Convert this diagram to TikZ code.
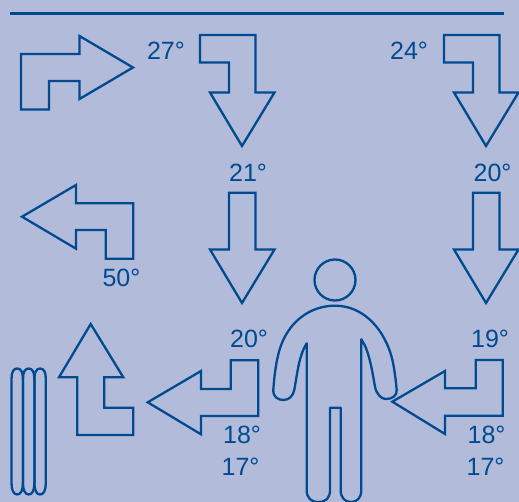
\documentclass[tikz,border=0pt]{standalone}
\usepackage{fontspec}
\setmainfont{Liberation Sans}
\definecolor{lineblue}{HTML}{004A8F}
\definecolor{paleblue}{HTML}{B3BBDB}
\begin{document}
\begin{tikzpicture}[
    x=1pt,
    y=-1pt,
    airflow/.style={draw=lineblue, line width=2.3pt, miter limit=10},
    templabel/.style={text=lineblue, inner sep=0pt, anchor=base, font=\fontsize{25}{28}\selectfont}
]

    % Background and margins
    \fill[paleblue] (0,0) rectangle (519,502);
    \useasboundingbox (0,0) rectangle (519,502);

    % Top rule
    \draw[lineblue, line width=2.6pt] (10,13.5) -- (504,13.5);

    % Warm air leaving the radiator at the top left
    \draw[airflow] (21,54) -- (79.5,54) -- (79.5,36) -- (133,67.5) -- (79.5,99) -- (79.5,81)
        -- (49,81) -- (49,109.5) -- (21,109.5) -- cycle;

    % Ceiling arrows, left and right column
    \draw[airflow] (200,35) -- (255.5,35) -- (255.5,92.5) -- (274.5,92.5) -- (242,146)
        -- (210,92.5) -- (229,92.5) -- (229,62.5) -- (200,62.5) -- cycle;
    \draw[airflow] (444,35) -- (499.5,35) -- (499.5,92.5) -- (518.5,92.5) -- (486,146)
        -- (454,92.5) -- (473,92.5) -- (473,62.5) -- (444,62.5) -- cycle;

    % Straight down arrows
    \draw[airflow] (229,192.7) -- (255.5,192.7) -- (255.5,249.5) -- (274.5,249.5) -- (242,303)
        -- (210,249.5) -- (229,249.5) -- cycle;
    \draw[airflow] (473,192.7) -- (499.5,192.7) -- (499.5,249.5) -- (518.5,249.5) -- (486,303)
        -- (454,249.5) -- (473,249.5) -- cycle;

    % Return arrow above the radiator
    \draw[airflow] (22,216.7) -- (76,185) -- (76,203.3) -- (133.3,203.3) -- (133.3,258.7)
        -- (105.7,258.7) -- (105.7,230) -- (76,230) -- (76,248.7) -- cycle;

    % Arrow rising from the floor
    \draw[airflow] (90.7,324) -- (123.3,377.3) -- (104.3,377.3) -- (104.3,407.7) -- (133.3,407.7)
        -- (133.3,435) -- (77.3,435) -- (77.3,377.3) -- (59,377.3) -- cycle;

    % Floor arrows
    \draw[airflow] (147.7,402.3) -- (201,371) -- (201,389) -- (230.7,389) -- (230.7,360.3)
        -- (258.3,360.3) -- (258.3,416) -- (201,416) -- (201,434.3) -- cycle;
    \draw[airflow] (392.3,401.7) -- (445,371) -- (445,388.3) -- (475.7,388.3) -- (475.7,360)
        -- (502.7,360) -- (502.7,415.7) -- (445,415.7) -- (445,434) -- cycle;

    % Radiator
    \foreach \colx in {11.5,23,34.4}{
        \draw[airflow] (\colx,379)
            .. controls (\colx,372) and (\colx+2,368.5) .. (\colx+5.7,368.5)
            .. controls (\colx+9.4,368.5) and (\colx+11.4,372) .. (\colx+11.4,379)
            -- (\colx+11.4,483)
            .. controls (\colx+11.4,490) and (\colx+9.4,494.5) .. (\colx+5.7,494.5)
            .. controls (\colx+2,494.5) and (\colx,490) .. (\colx,483) -- cycle;
    }

    % Person
    \draw[airflow] (335,280) circle (20.5);
    \draw[airflow, line join=round] (335,305.7)
        .. controls (309,305.7) and (288,323) .. (280,348.3)
        .. controls (276,361) and (274.3,376) .. (273.3,390)
        .. controls (273,397) and (278,400) .. (283.5,400)
        .. controls (289,400) and (293,396) .. (294.3,390)
        .. controls (297,375) and (299,355) .. (306.7,343.3)
        -- (306.7,490)
        .. controls (306.7,498) and (311,502) .. (318.3,502)
        .. controls (326,502) and (330,498) .. (330,490)
        -- (330,407.7) -- (340.7,407.7) -- (340.7,490)
        .. controls (340.7,498) and (345,502) .. (351,502)
        .. controls (357,502) and (361.3,498) .. (361.3,490)
        -- (361.3,339.3)
        .. controls (369,350) and (372,370) .. (375,386.7)
        .. controls (376.5,394) and (381,399) .. (386,399)
        .. controls (392,399) and (397,396) .. (396.7,390)
        .. controls (395,372) and (393,360) .. (390,351.7)
        .. controls (382,328) and (363,305.7) .. (335,305.7) -- cycle;

    % Temperatures
    \node[templabel] (t27) at (166,60) {27°};
    \node[templabel] (t24) at (409,60) {24°};
    \node[templabel] (t21) at (248,182) {21°};
    \node[templabel] (t20r) at (492.5,182) {20°};
    \node[templabel] (t50) at (121.5,286.7) {50°};
    \node[templabel] (t20) at (249,347.7) {20°};
    \node[templabel] (t19) at (490,347.3) {19°};
    \node[templabel] (t18) at (242,443) {18°};
    \node[templabel] (t17) at (240.5,475.7) {17°};
    \node[templabel] (t18r) at (486.5,443) {18°};
    \node[templabel] (t17r) at (485.5,475.7) {17°};

\end{tikzpicture}
\end{document}
